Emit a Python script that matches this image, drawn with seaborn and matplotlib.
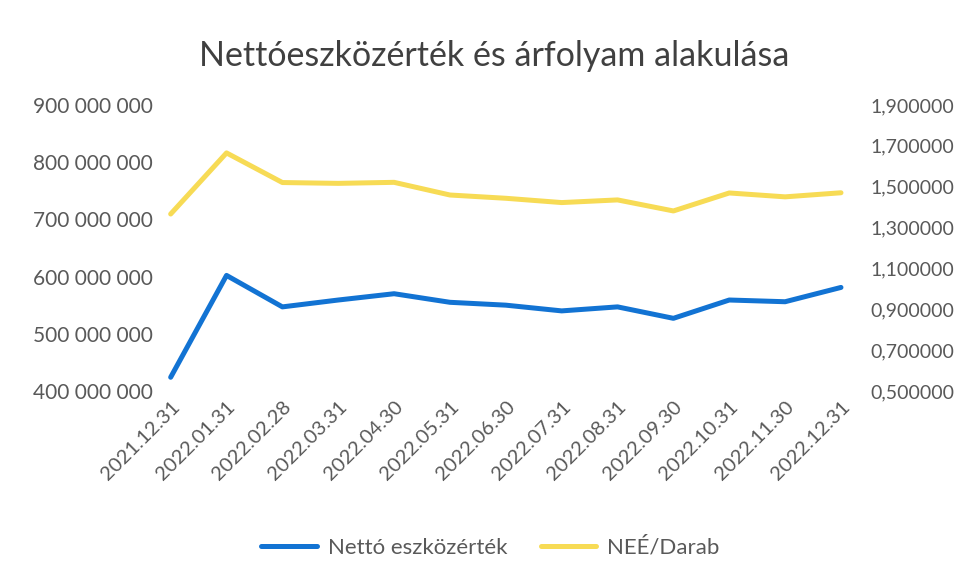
import matplotlib.pyplot as plt
import matplotlib.ticker as mticker
import numpy as np
import pandas as pd
import seaborn as sns

dates = ['2021.12.31', '2022.01.31', '2022.02.28', '2022.03.31', '2022.04.30',
         '2022.05.31', '2022.06.30', '2022.07.31', '2022.08.31', '2022.09.30',
         '2022.10.31', '2022.11.30', '2022.12.31']
net_assets = [424e6, 602e6, 547e6, 559e6, 570e6, 555e6, 550e6,
              540e6, 547e6, 527e6, 559e6, 556e6, 581e6]
nav_per_unit = [1.366, 1.665, 1.520, 1.516, 1.521, 1.459, 1.443,
                1.422, 1.435, 1.381, 1.469, 1.450, 1.470]

df = pd.DataFrame({'date': dates, 'nee': net_assets, 'unit': nav_per_unit})
df['pos'] = np.arange(len(df))

sns.set_theme(style="white")
plt.rcParams['font.family'] = ['Lato', 'DejaVu Sans']

grey = '#595959'
blue = '#1273D3'
yellow = '#F7DB55'

fig = plt.figure(figsize=(9.58, 5.75), dpi=100)
ax = fig.add_axes([0.149, 0.32, 0.758, 0.4976])
ax2 = ax.twinx()

sns.lineplot(data=df, x='pos', y='nee', ax=ax, color=blue, linewidth=3.6,
             label='Nettó eszközérték', legend=False)
sns.lineplot(data=df, x='pos', y='unit', ax=ax2, color=yellow, linewidth=3.6,
             label='NEÉ/Darab', legend=False)

ax.set_xlim(-0.5, len(df) - 0.5)
ax.set_ylim(400e6, 900e6)
ax.set_yticks(np.arange(400e6, 900e6 + 1, 100e6))
ax.yaxis.set_major_formatter(mticker.FuncFormatter(
    lambda v, p: f'{int(v):,}'.replace(',', ' ')))
ax2.set_ylim(0.5, 1.9)
ax2.set_yticks(np.arange(0.5, 1.91, 0.2))
ax2.yaxis.set_major_formatter(mticker.FuncFormatter(
    lambda v, p: f'{v:.6f}'.replace('.', ',')))

ax.set_xticks(df['pos'])
ax.set_xticklabels(dates, rotation=45, ha='right', rotation_mode='anchor')

for a in (ax, ax2):
    a.set_xlabel('')
    a.set_ylabel('')
    a.tick_params(colors=grey, labelsize=15, length=0)
    for s in a.spines.values():
        s.set_visible(False)
ax.tick_params(axis='y', pad=-7)
ax2.tick_params(axis='y', pad=1, labelsize=14)
ax.tick_params(axis='x', pad=5, labelsize=14.5)

fig.suptitle('Nettóeszközérték és árfolyam alakulása', x=0.516, y=0.93,
             fontsize=24.5, color='#404040')

h1, l1 = ax.get_legend_handles_labels()
h2, l2 = ax2.get_legend_handles_labels()
fig.legend(h1 + h2, l1 + l2, loc='center', bbox_to_anchor=(0.512, 0.048),
           ncol=2, frameon=False, fontsize=16, labelcolor=grey,
           handlelength=2.5, handletextpad=0.5, columnspacing=1.5)

fig.savefig('out.png', dpi=100)
